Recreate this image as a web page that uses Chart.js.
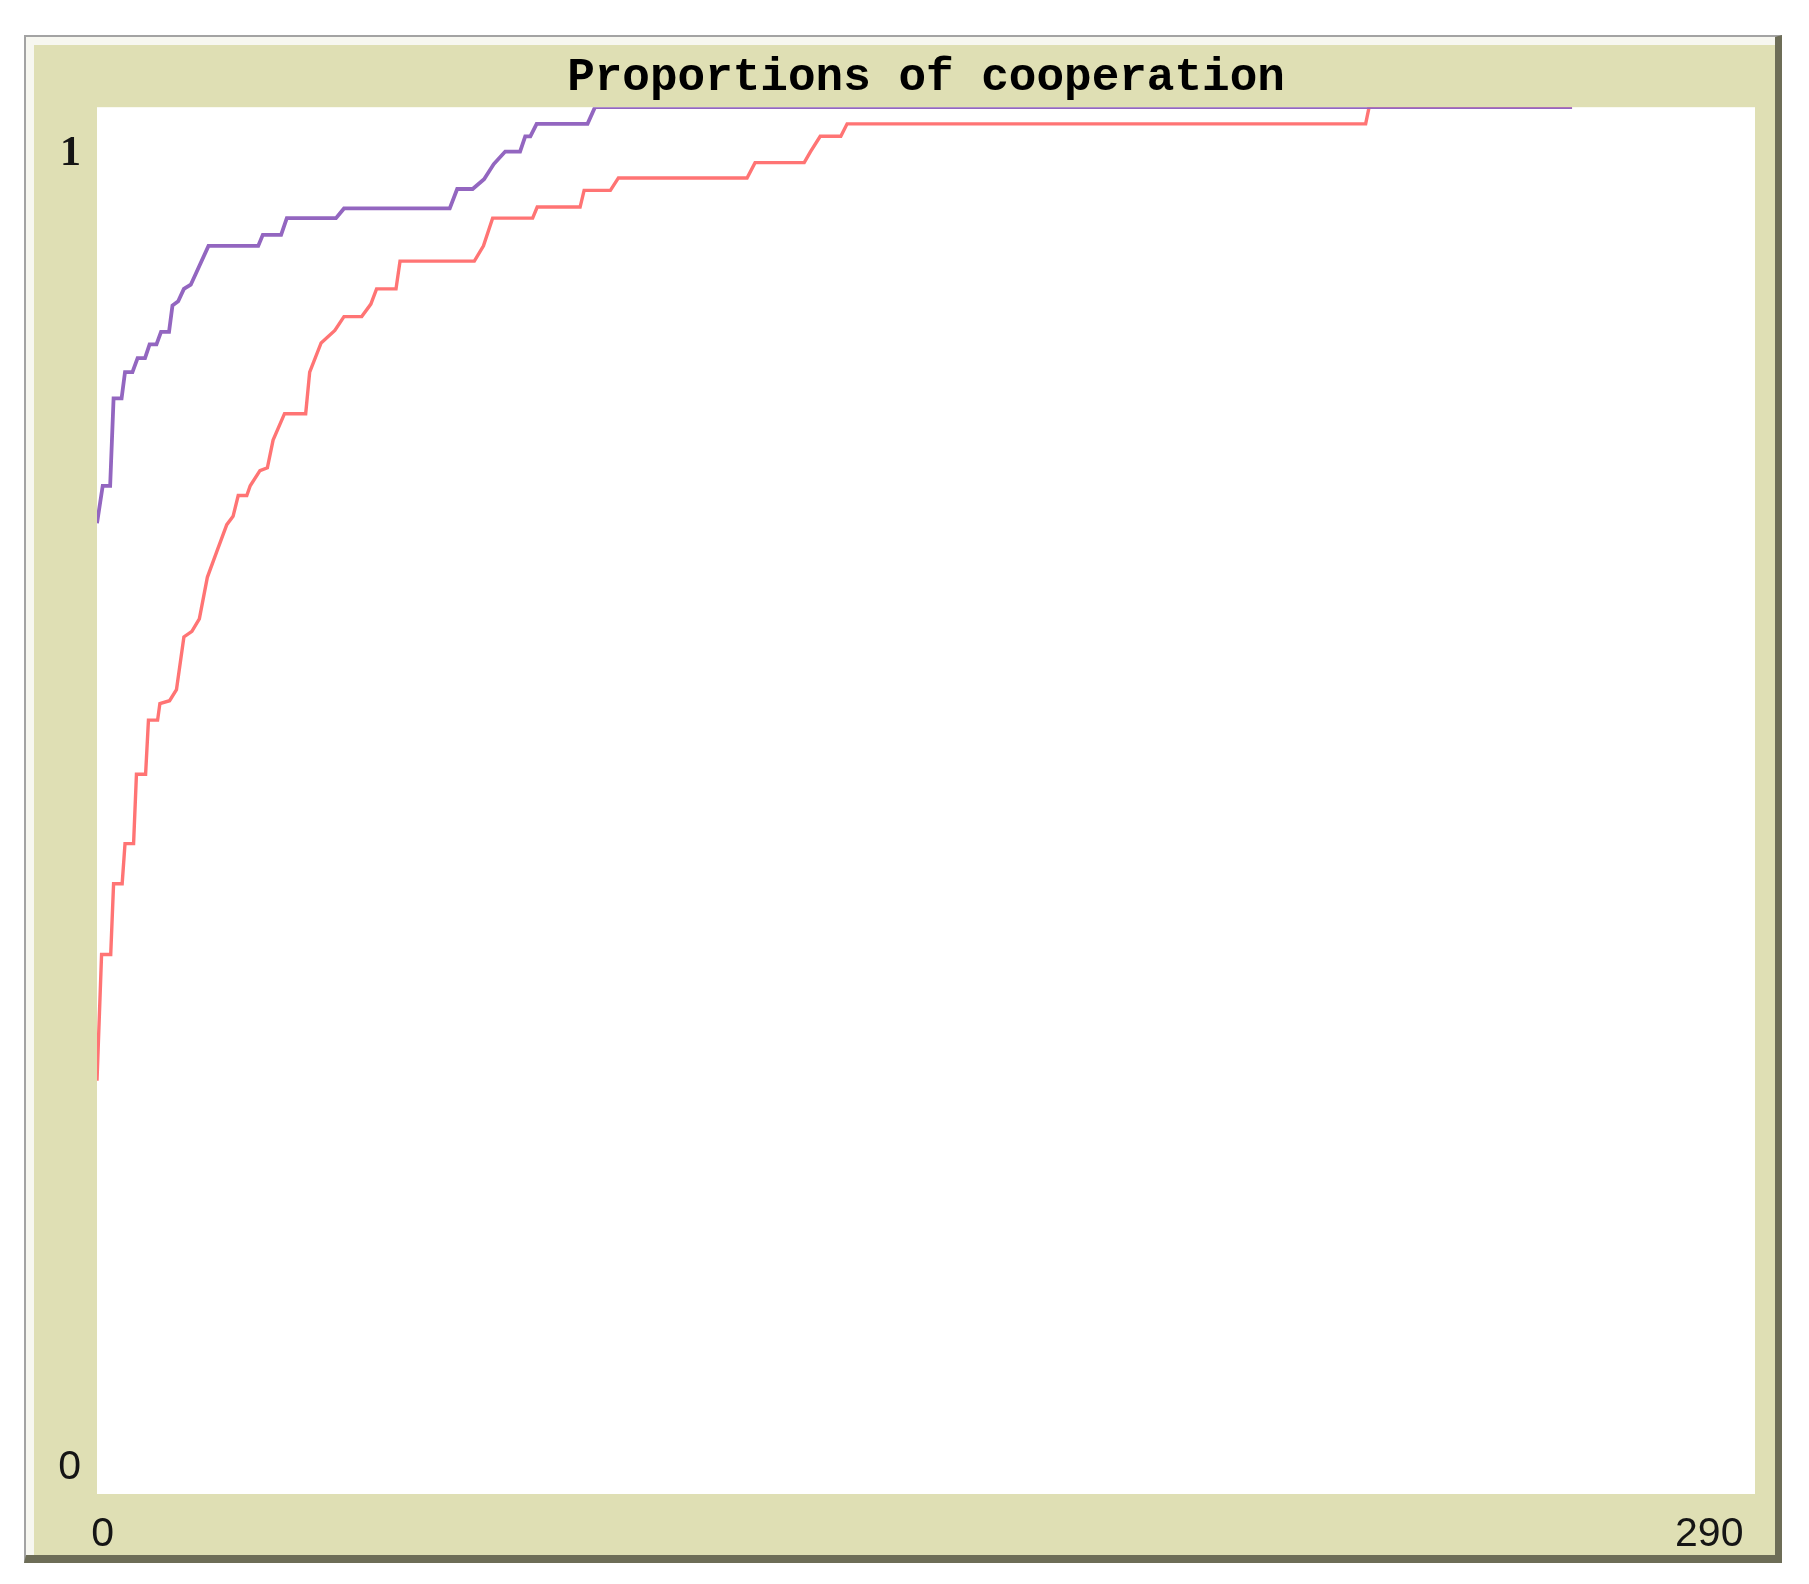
<!DOCTYPE html>
<html>
<head>
<meta charset="utf-8">
<title>Proportions of cooperation</title>
<script src="https://cdn.jsdelivr.net/npm/chart.js@4/dist/chart.umd.min.js"></script>
<style>
  html, body { margin: 0; padding: 0; background: #fff; }
  body { width: 1809px; height: 1584px; position: relative; overflow: hidden; }
  #frame {
    position: absolute; left: 24px; top: 35px; width: 1758px; height: 1528px;
    box-sizing: border-box;
    border-top: 2px solid #a3a3a3; border-left: 2px solid #a3a3a3;
    border-right: 7px solid #6d6d57; border-bottom: 8px solid #6d6d57;
    background: #dfdfb4;
    box-shadow: inset 8px 8px 0 #f7f7f0;
  }
  #chart { position: absolute; left: 34px; top: 45px; background: #dfdfb4; }
</style>
</head>
<body>
<div id="frame"></div>
<canvas id="chart" width="1739" height="1507"></canvas>
<script>
// corner points of the step lines (tick, share)
const purpleTicks = [0, 1.0, 2.3, 2.9, 4.3, 4.9, 6.2, 7.1, 8.4, 9.2, 10.4, 11.2, 12.6, 13.2, 14.2, 15.2, 16.4, 17.4, 19.5, 28.2,
    29.0, 32.2, 33.2, 41.8, 43.2, 61.7, 63.0, 65.7, 67.7, 69.4, 71.4, 74.0, 74.9, 75.8, 76.9, 85.8, 87.1, 258];
const purpleShares = [0.700, 0.727, 0.727, 0.790, 0.790, 0.809, 0.809, 0.819, 0.819, 0.829, 0.829, 0.838, 0.838, 0.857, 0.860, 0.869, 0.872, 0.881, 0.900, 0.900,
    0.908, 0.908, 0.920, 0.920, 0.927, 0.927, 0.941, 0.941, 0.948, 0.959, 0.968, 0.968, 0.979, 0.979, 0.988, 0.988, 1.0, 1.0];

const redTicks = [0, 0.8, 2.4, 2.9, 4.4, 4.9, 6.4, 6.9, 8.5, 9.0, 10.6, 11.0, 12.7, 13.9, 15.2, 16.6, 17.9, 19.3, 20.9, 22.7,
    23.8, 24.7, 26.2, 26.8, 28.5, 29.8, 30.8, 32.8, 36.5, 37.2, 39.2, 41.6, 43.2, 46.3, 47.9, 48.9, 52.3, 53.0, 66.0, 67.6,
    69.2, 76.2, 77.0, 84.5, 85.2, 89.8, 91.2, 113.7, 115.1, 123.7, 124.8, 126.5, 130.1, 131.2, 221.9, 222.5, 258];
const redShares = [0.298, 0.389, 0.389, 0.440, 0.440, 0.469, 0.469, 0.519, 0.519, 0.558, 0.558, 0.570, 0.572, 0.580, 0.618, 0.622, 0.631, 0.661, 0.679, 0.699,
    0.705, 0.720, 0.720, 0.727, 0.738, 0.740, 0.760, 0.779, 0.779, 0.809, 0.830, 0.839, 0.849, 0.849, 0.858, 0.869, 0.869, 0.889, 0.889, 0.900,
    0.920, 0.920, 0.928, 0.928, 0.940, 0.940, 0.949, 0.949, 0.960, 0.960, 0.968, 0.979, 0.979, 0.988, 0.988, 1.0, 1.0];

const xTickLabels = ["0", "290"];
const yTickLabels = ["0", "1"];
const xMax = 290;

function toPoints(xs, ys) {
    return xs.map((x, i) => ({ x: x, y: ys[i] }));
}

const plotBackground = {
    id: "plotBackground",
    beforeDraw(chart) {
        const { ctx, chartArea: a } = chart;
        ctx.save();
        ctx.fillStyle = "#ffffff";
        ctx.fillRect(a.left, a.top, a.right - a.left, a.bottom - a.top);
        ctx.restore();
    }
};

const sans = { family: "'Liberation Sans', Arial, sans-serif", size: 41 };

new Chart(document.getElementById("chart"), {
    type: "line",
    data: {
        datasets: [
            {
                data: toPoints(purpleTicks, purpleShares),
                borderColor: "#9366c0",
                borderWidth: 3.8
            },
            {
                data: toPoints(redTicks, redShares),
                borderColor: "#ff7474",
                borderWidth: 3.4
            }
        ]
    },
    options: {
        responsive: false,
        animation: false,
        layout: { padding: { left: 0, right: 18, top: 0, bottom: 0 } },
        elements: { point: { radius: 0 }, line: { tension: 0, borderJoinStyle: "miter" } },
        plugins: {
            legend: { display: false },
            tooltip: { enabled: false },
            title: {
                display: true,
                text: "Proportions of cooperation",
                fullSize: false,
                color: "#000",
                font: { family: "'Liberation Mono', monospace", weight: "bold", size: 46 },
                padding: { top: 6, bottom: 1 }
            }
        },
        scales: {
            x: {
                type: "linear",
                min: 0,
                max: xMax,
                grid: { display: false },
                border: { display: false },
                afterBuildTicks: s => { s.ticks = [{ value: 1 }, { value: 282 }]; },
                afterFit: s => { s.height = 58; },
                ticks: {
                    padding: 8,
                    maxRotation: 0,
                    color: "#151515",
                    font: sans,
                    callback: (v, i) => xTickLabels[i]
                }
            },
            y: {
                min: 0,
                max: 1,
                grid: { display: false },
                border: { display: false },
                afterBuildTicks: s => { s.ticks = [{ value: 0.019 }, { value: 0.966 }]; },
                afterFit: s => { s.width = 63; },
                ticks: {
                    padding: 8,
                    color: "#151515",
                    font: c => c.index === 1 ? { family: "'Liberation Serif', serif", weight: "bold", size: 42 } : sans,
                    callback: (v, i) => yTickLabels[i]
                }
            }
        }
    },
    plugins: [plotBackground]
});
</script>
</body>
</html>
